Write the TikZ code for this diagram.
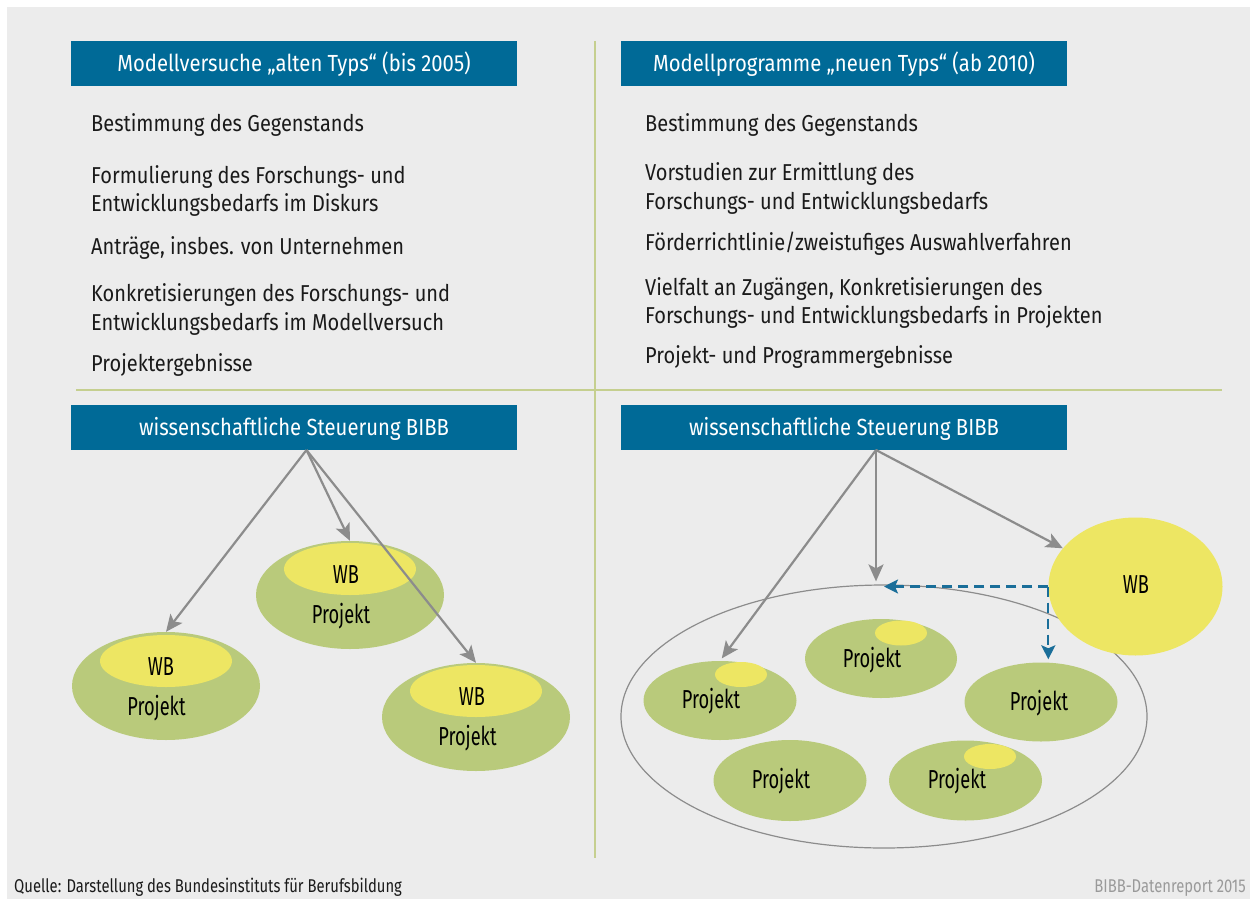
\documentclass[tikz,border=0pt]{standalone}
\usepackage{fontspec}
\setmainfont{Fira Sans}[FakeStretch=0.87]
\newfontfamily\condfont{Fira Sans}[FakeStretch=0.7]
\newfontfamily\footfont{Fira Sans}[FakeStretch=0.8]
\usetikzlibrary{arrows.meta,shapes.geometric,calc}
\definecolor{bg}{HTML}{ECECEC}
\definecolor{hblue}{HTML}{006A97}
\definecolor{pgreen}{HTML}{B9CA7B}
\definecolor{wyellow}{HTML}{EDE663}
\definecolor{sepc}{HTML}{C5CF8F}
\definecolor{arrgray}{HTML}{8C8C8C}
\definecolor{dblue}{HTML}{1A6E99}
\definecolor{txt}{HTML}{1A1A1A}
\definecolor{srcgray}{HTML}{9A9A9A}
\begin{document}
\begin{tikzpicture}[x=1pt,y=-1pt,
  header/.style={fill=hblue, text=white, minimum width=446pt, minimum height=45pt,
    inner sep=0pt, text height=16.5pt, text depth=0pt, font=\fontsize{23.3}{28}\selectfont},
  bodytxt/.style={anchor=base west, inner sep=0pt, text=txt, font=\fontsize{23}{28}\selectfont},
  projell/.style={ellipse, fill=pgreen, inner sep=0pt},
  wbell/.style={ellipse, fill=wyellow, inner sep=0pt},
  elltxt/.style={anchor=base, inner sep=0pt, text=black, font=\condfont\fontsize{26}{30}\selectfont},
  seprule/.style={draw=sepc, line width=2.5pt},
  grayarrow/.style={draw=arrgray, line width=2.2pt, -{Stealth[length=17pt,width=15pt,inset=4pt]}},
  bluearrow/.style={draw=dblue, line width=2.2pt, dash pattern=on 10pt off 6pt,
    -{Stealth[length=14pt,width=14pt,inset=3pt]}},
  footer/.style={anchor=base west, inner sep=0pt, font=\footfont\fontsize{18.5}{22}\selectfont}
]
\useasboundingbox (0,0) rectangle (1250,899);
\fill[bg] (7,7) rectangle (1250,899);

% separator lines
\coordinate (vtop) at (595,41);
\coordinate (vbot) at (595,858);
\coordinate (hl) at (76,390);
\coordinate (hr) at (1222,390);
\draw[seprule] (vtop) -- (vbot);
\draw[seprule] (hl) -- (hr);

% headers
\node[header] (hL) at (294,63.5) {Modellversuche „alten Typs“ (bis 2005)};
\node[header] (hR) at (844,63.5) {Modellprogramme „neuen Typs“ (ab 2010)};
\node[header] (sL) at (294,427.5) {wissenschaftliche Steuerung BIBB};
\node[header] (sR) at (844,427.5) {wissenschaftliche Steuerung BIBB};

% left items
\node[bodytxt] (a1) at (91,131) {Bestimmung des Gegenstands};
\node[bodytxt] (a2) at (91,183.3) {Formulierung des Forschungs- und};
\node[bodytxt] (a3) at (91,211.7) {Entwicklungsbedarfs im Diskurs};
\node[bodytxt] (a4) at (91,254) {Anträge, insbes. von Unternehmen};
\node[bodytxt] (a5) at (91,301.7) {Konkretisierungen des Forschungs- und};
\node[bodytxt] (a6) at (91,330.7) {Entwicklungsbedarfs im Modellversuch};
\node[bodytxt] (a7) at (91,371.7) {Projektergebnisse};

% right items
\node[bodytxt] (b1) at (645,131) {Bestimmung des Gegenstands};
\node[bodytxt] (b2) at (645,180) {Vorstudien zur Ermittlung des};
\node[bodytxt] (b3) at (645,209) {Forschungs- und Entwicklungsbedarfs};
\node[bodytxt] (b4) at (645,250) {Förderrichtlinie/zweistufiges Auswahlverfahren};
\node[bodytxt] (b5) at (645,295) {Vielfalt an Zugängen, Konkretisierungen des};
\node[bodytxt] (b6) at (645,323.3) {Forschungs- und Entwicklungsbedarfs in Projekten};
\node[bodytxt] (b7) at (645,363.3) {Projekt- und Programmergebnisse};

% left diagram
\node[projell, minimum width=188pt, minimum height=108pt] (PL1) at (166,686) {};
\node[wbell, minimum width=132pt, minimum height=52pt] (WL1) at (166,661) {};
\node[projell, minimum width=188pt, minimum height=108pt] (PL2) at (350,595) {};
\node[wbell, minimum width=132pt, minimum height=52pt] (WL2) at (350,569) {};
\node[projell, minimum width=188pt, minimum height=108pt] (PL3) at (476,717) {};
\node[wbell, minimum width=132pt, minimum height=52pt] (WL3) at (476,691) {};
\node[elltxt] (tw1) at (161,675) {WB};
\node[elltxt] (tp1) at (156.5,715) {Projekt};
\node[elltxt] (tw2) at (346,583) {WB};
\node[elltxt] (tp2) at (341,623) {Projekt};
\node[elltxt] (tw3) at (472,705) {WB};
\node[elltxt] (tp3) at (467.5,745.5) {Projekt};

\coordinate (oL) at (306.5,450);
\draw[grayarrow] (oL) -- (PL1.north);
\draw[grayarrow] (oL) -- (PL2.north);
\draw[grayarrow] (oL) -- (PL3.north);

% right diagram
\node[ellipse, draw=arrgray, line width=1.2pt, minimum width=526pt, minimum height=263pt, inner sep=0pt] (big) at (884,716.5) {};
\node[projell, minimum width=153pt, minimum height=79pt] (P1) at (720,700.5) {};
\node[wbell, minimum width=52pt, minimum height=25pt] (Y1) at (741,674.5) {};
\node[projell, minimum width=152pt, minimum height=79pt] (P2) at (881,658.5) {};
\node[wbell, minimum width=52pt, minimum height=25pt] (Y2) at (901,633) {};
\node[projell, minimum width=153pt, minimum height=79pt] (P3) at (1041,702) {};
\node[projell, minimum width=153pt, minimum height=81pt] (P4) at (790,780.5) {};
\node[projell, minimum width=153pt, minimum height=80pt] (P5) at (965.5,780.5) {};
\node[wbell, minimum width=52pt, minimum height=25pt] (Y5) at (990,756.5) {};
\node[wbell, minimum width=174pt, minimum height=138pt] (WB) at (1135.5,586.5) {};
\node[elltxt] (tq1) at (711,708) {Projekt};
\node[elltxt] (tq2) at (872,667) {Projekt};
\node[elltxt] (tq3) at (1039,710) {Projekt};
\node[elltxt] (tq4) at (781,788) {Projekt};
\node[elltxt] (tq5) at (957,788) {Projekt};
\node[elltxt] (twb) at (1136,593) {WB};

\coordinate (oR) at (876,450);
\draw[grayarrow, shorten >=3pt] (oR) -- (P1.north);
\draw[grayarrow, shorten >=3pt] (oR) -- (oR |- big.north);
\draw[grayarrow] (oR) -- (WB);
\draw[bluearrow] (WB.west) -- (WB.west -| big.north);
\draw[bluearrow, shorten >=3pt] (WB.west) -- (WB.west |- P3.north);

% footer
\node[footer, text=txt] (src) at (14,892) {Quelle: Darstellung des Bundesinstituts für Berufsbildung};
\node[footer, text=srcgray, anchor=base east] (rep) at (1246,892) {BIBB-Datenreport 2015};
\end{tikzpicture}
\end{document}
